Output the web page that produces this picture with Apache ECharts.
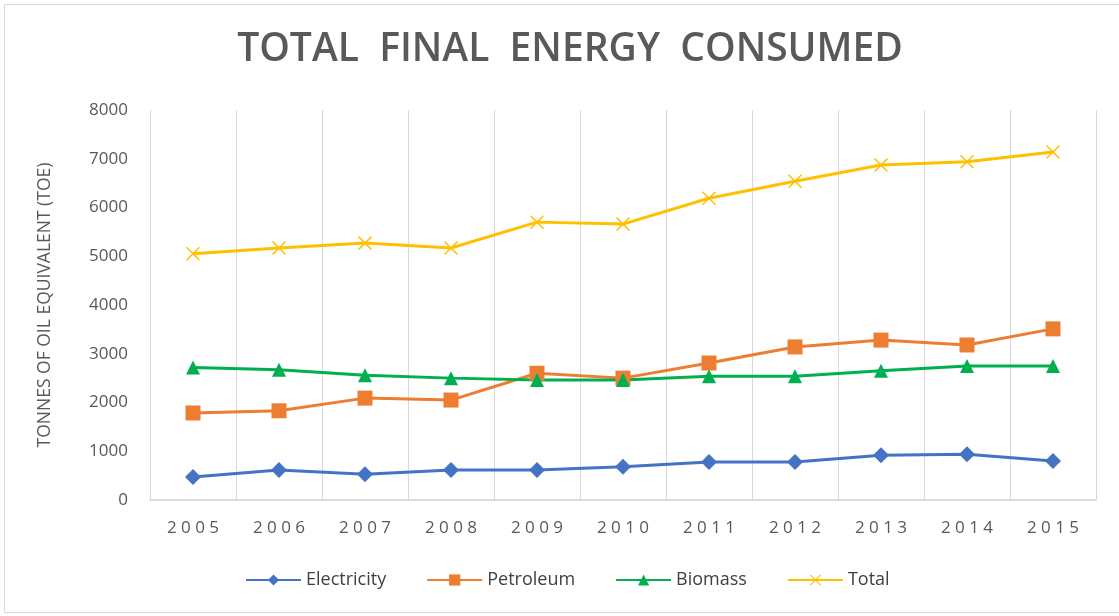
<!DOCTYPE html>
<html>
<head>
<meta charset="utf-8">
<script src="https://cdn.jsdelivr.net/npm/echarts@6/dist/echarts.min.js"></script>
<style>html,body{margin:0;padding:0;background:#fff}#c{width:1119px;height:616px}</style>
</head>
<body>
<div id="c"></div>
<script>
const years = ['2005','2006','2007','2008','2009','2010','2011','2012','2013','2014','2015'];
const electricity = [470, 615, 530, 615, 615, 680, 780, 780, 920, 940, 800];
const petroleum = [1785, 1830, 2090, 2050, 2600, 2500, 2810, 3140, 3280, 3180, 3510];
const biomass = [2720, 2670, 2560, 2500, 2460, 2460, 2540, 2540, 2650, 2750, 2750];
const total = [5050, 5170, 5270, 5170, 5700, 5660, 6190, 6540, 6870, 6940, 7140];
const yTicks = [0, 1000, 2000, 3000, 4000, 5000, 6000, 7000, 8000];

const xSym = 'path://M0,1.5 L1.5,0 L10,8.5 L18.5,0 L20,1.5 L11.5,10 L20,18.5 L18.5,20 L10,11.5 L1.5,20 L0,18.5 L8.5,10 Z';
const font = '"Open Sans", "Liberation Sans", sans-serif';
const chart = echarts.init(document.getElementById('c'));
function mk(name, data, color, symbol, size) {
  return {
    name, type: 'line', data, symbol, symbolSize: size,
    lineStyle: { color, width: 3 },
    itemStyle: { color },
    emphasis: { disabled: true }
  };
}
chart.setOption({
  animation: false,
  textStyle: { fontFamily: font },
  title: {
    text: 'TOTAL  FINAL  ENERGY  CONSUMED',
    left: 565, textAlign: 'center', top: 25,
    textStyle: { fontFamily: font, fontSize: 39, fontWeight: 600, color: '#595959' }
  },
  graphic: [{
    type: 'rect', shape: { x: 4.5, y: 4.5, width: 1120, height: 608 },
    style: { fill: 'none', stroke: '#d9d9d9', lineWidth: 1 }, silent: true
  }],
  legend: {
    bottom: 22, left: 240, itemGap: 40, itemWidth: 55, itemHeight: 14,
    textStyle: { fontSize: 18, color: '#404040', fontFamily: font },
    data: ['Electricity', 'Petroleum', 'Biomass', 'Total']
  },
  grid: { left: 150, right: 23, top: 110, bottom: 116 },
  xAxis: {
    type: 'category', data: years, boundaryGap: true,
    axisLine: { lineStyle: { color: '#d0d0d0', width: 1.5 } },
    axisTick: { show: false },
    splitLine: { show: true, lineStyle: { color: '#d9d9d9', width: 1 } },
    axisLabel: { color: '#595959', fontSize: 17, margin: 20,
      formatter: v => v.split('').join(' ') }
  },
  yAxis: {
    type: 'value', min: yTicks[0], max: yTicks[yTicks.length - 1], interval: 1000,
    name: 'TONNES OF OIL EQUIVALENT (TOE)', nameLocation: 'middle', nameGap: 96,
    nameTextStyle: { color: '#595959', fontSize: 17.5, fontFamily: font },
    axisLine: { show: false }, axisTick: { show: false },
    splitLine: { show: false },
    axisLabel: { color: '#595959', fontSize: 17, margin: 22, formatter: v => String(v) }
  },
  series: [
    mk('Electricity', electricity, '#4472C4', 'diamond', 16),
    mk('Petroleum', petroleum, '#ED7D31', 'rect', 15),
    mk('Biomass', biomass, '#00B050', 'triangle', 14),
    mk('Total', total, '#FFC000', xSym, 14)
  ]
});
</script>
</body>
</html>
